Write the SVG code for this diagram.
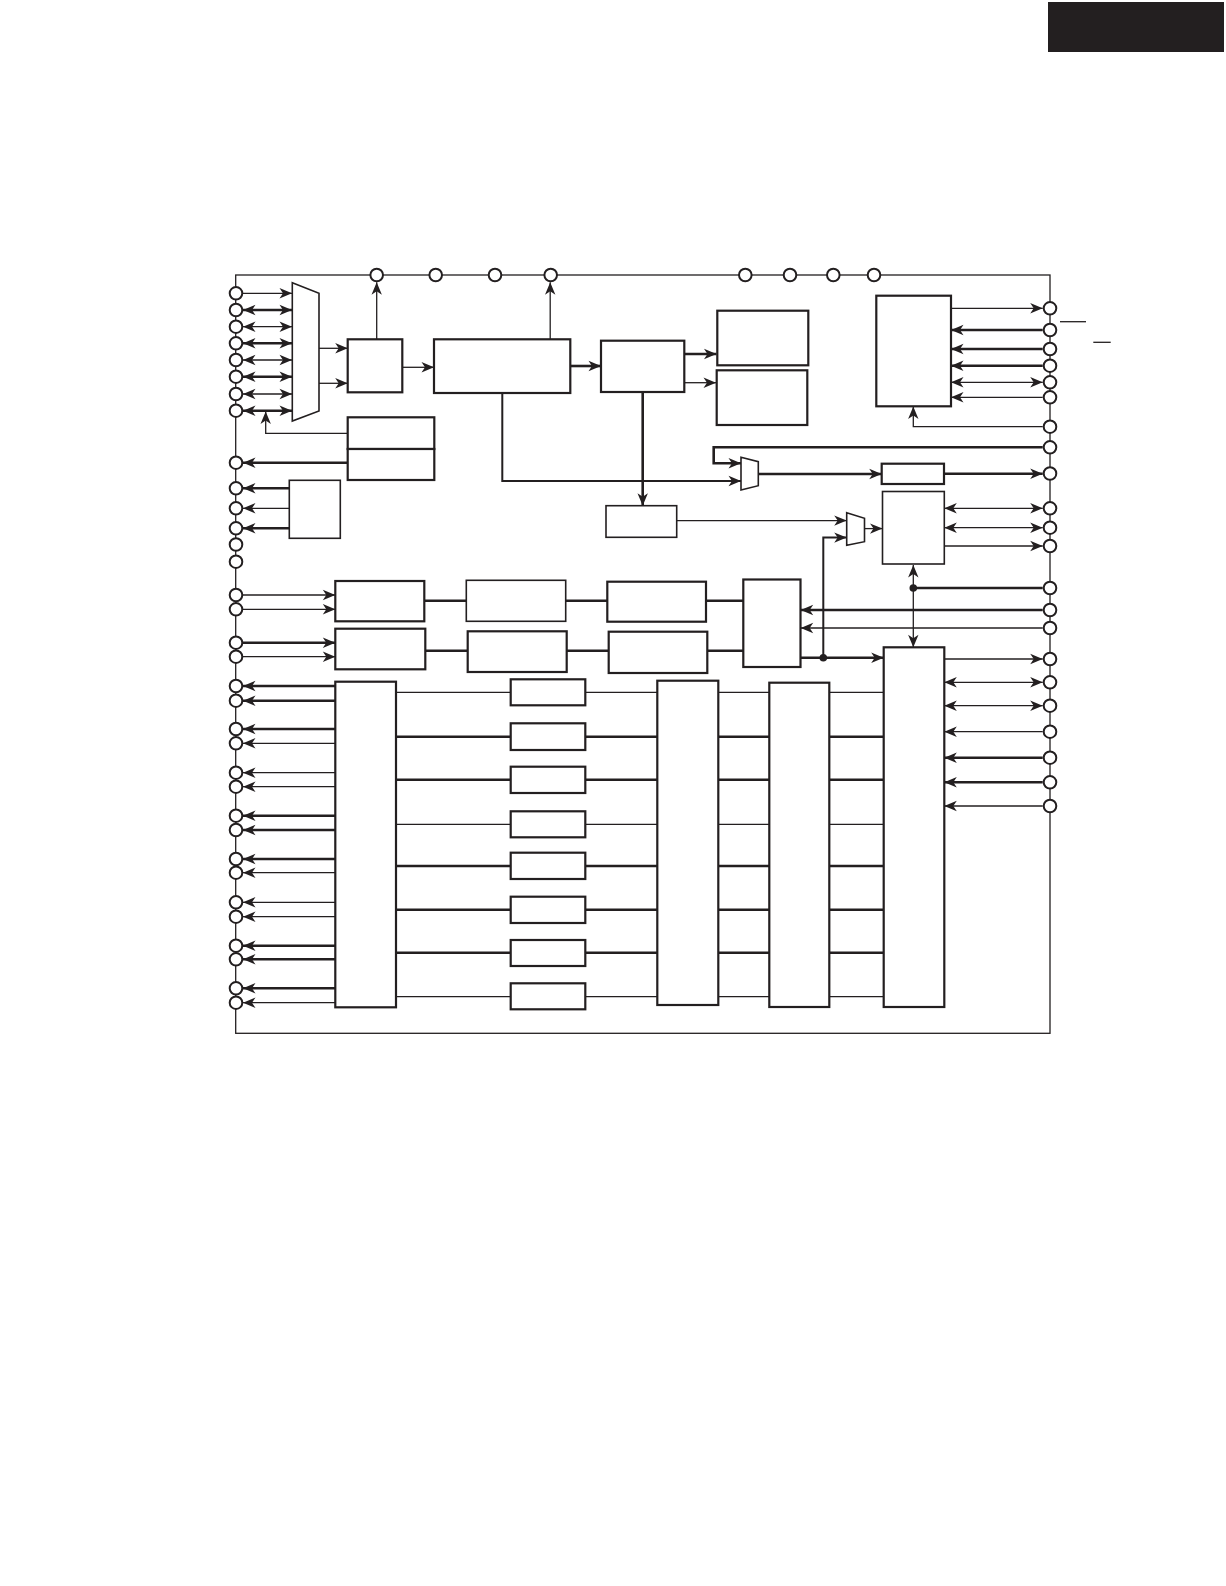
<svg xmlns="http://www.w3.org/2000/svg" width="1226" height="1586" viewBox="0 0 1226 1586">
<style>
.t{stroke:#231f20;stroke-width:1.3;fill:none}
.k{stroke:#231f20;stroke-width:2.6;fill:none}
.m{stroke:#231f20;stroke-width:2;fill:none}
.b{stroke:#231f20;stroke-width:2.2;fill:#fff}
.bt{stroke:#231f20;stroke-width:1.6;fill:#fff}
.pin{stroke:#231f20;stroke-width:2;fill:#fff}
</style>
<defs>
<marker id="ah" markerUnits="userSpaceOnUse" viewBox="-13 -6 14 12" refX="0" refY="0" markerWidth="14" markerHeight="12" orient="auto-start-reverse">
<path d="M0,0 L-12.5,-5.2 L-9,0 L-12.5,5.2 Z" fill="#231f20"/>
</marker>
</defs>
<rect width="1226" height="1586" fill="#fff"/>
<rect id="tab" x="1048" y="2" width="176" height="50" fill="#231f20"/>
<rect id="chip" x="235.7" y="275" width="814.3" height="758.3" class="t"/>

<g id="connectors">
<!-- left pins to mux -->
<line x1="243" y1="293.3" x2="292" y2="293.3" class="t" marker-end="url(#ah)"/>
<line x1="243" y1="310" x2="292" y2="310" class="k" marker-start="url(#ah)" marker-end="url(#ah)"/>
<line x1="243" y1="326.7" x2="292" y2="326.7" class="t" marker-start="url(#ah)" marker-end="url(#ah)"/>
<line x1="243" y1="343.3" x2="292" y2="343.3" class="k" marker-start="url(#ah)" marker-end="url(#ah)"/>
<line x1="243" y1="360" x2="292" y2="360" class="t" marker-start="url(#ah)" marker-end="url(#ah)"/>
<line x1="243" y1="376.7" x2="292" y2="376.7" class="k" marker-start="url(#ah)" marker-end="url(#ah)"/>
<line x1="243" y1="394" x2="292" y2="394" class="t" marker-start="url(#ah)" marker-end="url(#ah)"/>
<line x1="243" y1="410.7" x2="292" y2="410.7" class="k" marker-start="url(#ah)" marker-end="url(#ah)"/>
<!-- mux to A -->
<line x1="319" y1="348.3" x2="347.7" y2="348.3" class="t" marker-end="url(#ah)"/>
<line x1="319" y1="383.3" x2="347.7" y2="383.3" class="t" marker-end="url(#ah)"/>
<!-- A up, A to B -->
<line x1="376.7" y1="339.3" x2="376.7" y2="282.3" class="t" marker-end="url(#ah)"/>
<line x1="402.3" y1="367.3" x2="434" y2="367.3" class="t" marker-end="url(#ah)"/>
<!-- B up, B to C, B down -->
<line x1="550.2" y1="339.3" x2="550.2" y2="282.3" class="t" marker-end="url(#ah)"/>
<line x1="570.3" y1="366" x2="601" y2="366" class="k" marker-end="url(#ah)"/>
<polyline points="502.3,393 502.3,481 741,481" class="m" marker-end="url(#ah)"/>
<!-- D connections -->
<polyline points="347.7,433.3 265.7,433.3 265.7,411.5" class="t" marker-end="url(#ah)"/>
<line x1="347.7" y1="462.7" x2="243" y2="462.7" class="k" marker-end="url(#ah)"/>
<!-- E -->
<line x1="289.3" y1="488.3" x2="243" y2="488.3" class="k" marker-end="url(#ah)"/>
<line x1="289.3" y1="508.3" x2="243" y2="508.3" class="t" marker-end="url(#ah)"/>
<line x1="289.3" y1="528.3" x2="243" y2="528.3" class="k" marker-end="url(#ah)"/>
<!-- C to G -->
<line x1="684.3" y1="354" x2="716.5" y2="354" class="k" marker-end="url(#ah)"/>
<line x1="684.3" y1="382.7" x2="716" y2="382.7" class="t" marker-end="url(#ah)"/>
<line x1="642.7" y1="392" x2="642.7" y2="505.7" class="k" marker-end="url(#ah)"/>
<!-- F to mux3 -->
<line x1="676.7" y1="520.6" x2="846.7" y2="520.6" class="t" marker-end="url(#ah)"/>
<!-- loop into mux2 -->
<polyline points="1042.7,447.3 713.7,447.3 713.7,463.3 741,463.3" class="k" marker-end="url(#ah)"/>
<line x1="758.3" y1="474" x2="881.7" y2="474" class="k" marker-end="url(#ah)"/>
<line x1="944" y1="473.7" x2="1042.7" y2="473.7" class="k" marker-end="url(#ah)"/>
<!-- J -->
<line x1="951" y1="308.3" x2="1042.7" y2="308.3" class="t" marker-end="url(#ah)"/>
<line x1="1042.7" y1="330" x2="951" y2="330" class="k" marker-end="url(#ah)"/>
<line x1="1042.7" y1="349" x2="951" y2="349" class="k" marker-end="url(#ah)"/>
<line x1="1042.7" y1="365.7" x2="951" y2="365.7" class="k" marker-end="url(#ah)"/>
<line x1="951" y1="382.3" x2="1042.7" y2="382.3" class="t" marker-start="url(#ah)" marker-end="url(#ah)"/>
<line x1="1042.7" y1="397.3" x2="951" y2="397.3" class="t" marker-end="url(#ah)"/>
<polyline points="1042.7,426.7 913.3,426.7 913.3,406.5" class="t" marker-end="url(#ah)"/>
<!-- K -->
<line x1="944.3" y1="508.3" x2="1042.7" y2="508.3" class="t" marker-start="url(#ah)" marker-end="url(#ah)"/>
<line x1="944.3" y1="527.7" x2="1042.7" y2="527.7" class="t" marker-start="url(#ah)" marker-end="url(#ah)"/>
<line x1="944.3" y1="546" x2="1042.7" y2="546" class="t" marker-end="url(#ah)"/>
<!-- mux3 -->
<polyline points="823.3,657.7 823.3,537.6 846.7,537.6" class="m" marker-end="url(#ah)"/>
<line x1="864.5" y1="528.6" x2="882.5" y2="528.6" class="t" marker-end="url(#ah)"/>
<!-- K-S double arrow -->
<line x1="913.3" y1="565" x2="913.3" y2="647.3" class="t" marker-start="url(#ah)" marker-end="url(#ah)"/>
<line x1="913.3" y1="588" x2="1042.7" y2="588" class="k"/>
<circle cx="913.3" cy="588" r="3.8" fill="#231f20"/>
<!-- R -->
<line x1="1042.7" y1="610" x2="800.7" y2="610" class="k" marker-end="url(#ah)"/>
<line x1="1042.7" y1="628" x2="800.7" y2="628" class="t" marker-end="url(#ah)"/>
<line x1="800.7" y1="657.7" x2="883.7" y2="657.7" class="k" marker-end="url(#ah)"/>
<circle cx="823.3" cy="657.7" r="3.8" fill="#231f20"/>
<!-- L inputs -->
<line x1="243" y1="595" x2="335.3" y2="595" class="t" marker-end="url(#ah)"/>
<line x1="243" y1="609.3" x2="335.3" y2="609.3" class="t" marker-end="url(#ah)"/>
<line x1="243" y1="642.7" x2="335.3" y2="642.7" class="k" marker-end="url(#ah)"/>
<line x1="243" y1="656.7" x2="335.3" y2="656.7" class="t" marker-end="url(#ah)"/>
<!-- L-M-N-R chains -->
<line x1="424.3" y1="600.7" x2="466.3" y2="600.7" class="k"/>
<line x1="565.7" y1="600.7" x2="607.3" y2="600.7" class="k"/>
<line x1="706" y1="600.7" x2="743.3" y2="600.7" class="k"/>
<line x1="425.3" y1="650.7" x2="467.7" y2="650.7" class="k"/>
<line x1="566.7" y1="650.7" x2="608.7" y2="650.7" class="k"/>
<line x1="707.3" y1="650.7" x2="743.3" y2="650.7" class="k"/>
<!-- S outputs -->
<line x1="944.3" y1="659" x2="1042.7" y2="659" class="t" marker-end="url(#ah)"/>
<line x1="944.3" y1="682.3" x2="1042.7" y2="682.3" class="t" marker-start="url(#ah)" marker-end="url(#ah)"/>
<line x1="944.3" y1="705.7" x2="1042.7" y2="705.7" class="t" marker-start="url(#ah)" marker-end="url(#ah)"/>
<line x1="1042.7" y1="731.7" x2="944.3" y2="731.7" class="t" marker-end="url(#ah)"/>
<line x1="1042.7" y1="757.7" x2="944.3" y2="757.7" class="k" marker-end="url(#ah)"/>
<line x1="1042.7" y1="782.3" x2="944.3" y2="782.3" class="k" marker-end="url(#ah)"/>
<line x1="1042.7" y1="806" x2="944.3" y2="806" class="t" marker-end="url(#ah)"/>
<!-- P outputs -->
<line x1="335.3" y1="686" x2="243" y2="686" class="k" marker-end="url(#ah)"/>
<line x1="335.3" y1="700.7" x2="243" y2="700.7" class="k" marker-end="url(#ah)"/>
<line x1="335.3" y1="729" x2="243" y2="729" class="k" marker-end="url(#ah)"/>
<line x1="335.3" y1="743.3" x2="243" y2="743.3" class="t" marker-end="url(#ah)"/>
<line x1="335.3" y1="772.7" x2="243" y2="772.7" class="t" marker-end="url(#ah)"/>
<line x1="335.3" y1="786.7" x2="243" y2="786.7" class="t" marker-end="url(#ah)"/>
<line x1="335.3" y1="815.7" x2="243" y2="815.7" class="k" marker-end="url(#ah)"/>
<line x1="335.3" y1="830" x2="243" y2="830" class="k" marker-end="url(#ah)"/>
<line x1="335.3" y1="859" x2="243" y2="859" class="k" marker-end="url(#ah)"/>
<line x1="335.3" y1="872.7" x2="243" y2="872.7" class="t" marker-end="url(#ah)"/>
<line x1="335.3" y1="902.3" x2="243" y2="902.3" class="t" marker-end="url(#ah)"/>
<line x1="335.3" y1="916.7" x2="243" y2="916.7" class="t" marker-end="url(#ah)"/>
<line x1="335.3" y1="945.7" x2="243" y2="945.7" class="k" marker-end="url(#ah)"/>
<line x1="335.3" y1="959.3" x2="243" y2="959.3" class="k" marker-end="url(#ah)"/>
<line x1="335.3" y1="988.3" x2="243" y2="988.3" class="k" marker-end="url(#ah)"/>
<line x1="335.3" y1="1002.7" x2="243" y2="1002.7" class="t" marker-end="url(#ah)"/>
<!-- channel rows -->
<path class="t" d="M396,692.3H510.7M585.3,692.3H657.3M718.3,692.3H769.3M829.3,692.3H883.7"/>
<path class="k" d="M396,736.7H510.7M585.3,736.7H657.3M718.3,736.7H769.3M829.3,736.7H883.7"/>
<path class="k" d="M396,779.7H510.7M585.3,779.7H657.3M718.3,779.7H769.3M829.3,779.7H883.7"/>
<path class="t" d="M396,824.3H510.7M585.3,824.3H657.3M718.3,824.3H769.3M829.3,824.3H883.7"/>
<path class="k" d="M396,866H510.7M585.3,866H657.3M718.3,866H769.3M829.3,866H883.7"/>
<path class="k" d="M396,909.7H510.7M585.3,909.7H657.3M718.3,909.7H769.3M829.3,909.7H883.7"/>
<path class="k" d="M396,952.7H510.7M585.3,952.7H657.3M718.3,952.7H769.3M829.3,952.7H883.7"/>
<path class="t" d="M396,996.7H510.7M585.3,996.7H657.3M718.3,996.7H769.3M829.3,996.7H883.7"/>
<!-- overlines -->
<line x1="1060" y1="321.7" x2="1086" y2="321.7" class="t"/>
<line x1="1093.3" y1="342.3" x2="1110.7" y2="342.3" class="t"/>
</g>

<g id="mux1"><polygon points="292.3,282.7 319,293.3 319,411 292.3,421" class="bt"/></g>
<g id="boxA"><rect x="347.7" y="339.3" width="54.6" height="53" class="b"/></g>
<g id="boxB"><rect x="434" y="339.3" width="136.3" height="53.7" class="b"/></g>
<g id="boxC"><rect x="601" y="340.7" width="83.3" height="51.3" class="b"/></g>
<g id="boxG1"><rect x="717.3" y="310.7" width="91" height="54.6" class="b" stroke-width="2.6"/></g>
<g id="boxG2"><rect x="716.7" y="370.3" width="90.6" height="54.7" class="b" stroke-width="2.6"/></g>
<g id="boxD1"><rect x="347.7" y="417.3" width="86.6" height="31.7" class="b"/></g>
<g id="boxD2"><rect x="347.7" y="449" width="86.6" height="31" class="b"/></g>
<g id="boxE"><rect x="289.3" y="480.3" width="51" height="58" class="bt"/></g>
<g id="boxF"><rect x="606" y="505.7" width="70.7" height="31.6" class="bt"/></g>
<g id="mux2"><polygon points="741,457.3 758.3,461.7 758.3,485.7 741,490" class="bt"/></g>
<g id="boxH"><rect x="881.7" y="463.7" width="62.3" height="20.3" class="b" stroke-width="2.6"/></g>
<g id="boxJ"><rect x="876.3" y="295.7" width="74.7" height="110.6" class="b" stroke-width="2.4"/></g>
<g id="boxK"><rect x="882.5" y="491.5" width="61.8" height="72.5" class="bt"/></g>
<g id="mux3"><polygon points="846.7,512.7 864.5,518.3 864.5,541.7 846.7,545.3" class="bt" stroke-width="2"/></g>
<g id="boxL1"><rect x="335.3" y="581" width="89" height="40.3" class="b"/></g>
<g id="boxL2"><rect x="335.3" y="628.7" width="90" height="40.6" class="b"/></g>
<g id="boxM1"><rect x="466.3" y="580.3" width="99.4" height="41" class="bt"/></g>
<g id="boxM2"><rect x="467.7" y="631.3" width="99" height="40.7" class="b"/></g>
<g id="boxN1"><rect x="607.3" y="581.7" width="98.7" height="40" class="b"/></g>
<g id="boxN2"><rect x="608.7" y="631.7" width="98.6" height="41.3" class="b"/></g>
<g id="boxR"><rect x="743.3" y="579.5" width="57.2" height="87.5" class="b"/></g>
<g id="boxS"><rect x="883.7" y="647.3" width="60.6" height="359.7" class="b"/></g>
<g id="boxP"><rect x="335.3" y="681.7" width="60.7" height="325.6" class="b"/></g>
<g id="boxT"><rect x="657.3" y="680.7" width="61" height="324.3" class="b"/></g>
<g id="boxU"><rect x="769.3" y="682.7" width="60" height="324.3" class="b"/></g>
<g id="boxQ1"><rect x="510.7" y="679.3" width="74.6" height="26" class="b"/></g>
<g id="boxQ2"><rect x="510.7" y="723.3" width="74.6" height="26.7" class="b"/></g>
<g id="boxQ3"><rect x="510.7" y="766.7" width="74.6" height="26.3" class="b"/></g>
<g id="boxQ4"><rect x="510.7" y="811.3" width="74.6" height="26" class="b"/></g>
<g id="boxQ5"><rect x="510.7" y="852.7" width="74.6" height="26.3" class="b"/></g>
<g id="boxQ6"><rect x="510.7" y="896.7" width="74.6" height="26.3" class="b"/></g>
<g id="boxQ7"><rect x="510.7" y="940" width="74.6" height="26" class="b"/></g>
<g id="boxQ8"><rect x="510.7" y="983.3" width="74.6" height="26" class="b"/></g>

<g id="pins">
<g id="pinsTop">
<circle cx="376.7" cy="275" r="6.3" class="pin"/>
<circle cx="435.7" cy="275" r="6.3" class="pin"/>
<circle cx="495" cy="275" r="6.3" class="pin"/>
<circle cx="550.7" cy="275" r="6.3" class="pin"/>
<circle cx="745.3" cy="275" r="6.3" class="pin"/>
<circle cx="790" cy="275" r="6.3" class="pin"/>
<circle cx="833.3" cy="275" r="6.3" class="pin"/>
<circle cx="874" cy="275" r="6.3" class="pin"/>
</g>
<g id="pinsLeft">
<circle cx="236" cy="293.3" r="6.3" class="pin"/>
<circle cx="236" cy="310" r="6.3" class="pin"/>
<circle cx="236" cy="326.7" r="6.3" class="pin"/>
<circle cx="236" cy="343.3" r="6.3" class="pin"/>
<circle cx="236" cy="360" r="6.3" class="pin"/>
<circle cx="236" cy="376.7" r="6.3" class="pin"/>
<circle cx="236" cy="394" r="6.3" class="pin"/>
<circle cx="236" cy="410.7" r="6.3" class="pin"/>
<circle cx="236" cy="462.7" r="6.3" class="pin"/>
<circle cx="236" cy="488.3" r="6.3" class="pin"/>
<circle cx="236" cy="508.3" r="6.3" class="pin"/>
<circle cx="236" cy="528.3" r="6.3" class="pin"/>
<circle cx="236" cy="544.5" r="6.3" class="pin"/>
<circle cx="236" cy="561.7" r="6.3" class="pin"/>
<circle cx="236" cy="595" r="6.3" class="pin"/>
<circle cx="236" cy="609.3" r="6.3" class="pin"/>
<circle cx="236" cy="642.7" r="6.3" class="pin"/>
<circle cx="236" cy="656.7" r="6.3" class="pin"/>
<circle cx="236" cy="686" r="6.3" class="pin"/>
<circle cx="236" cy="700.7" r="6.3" class="pin"/>
<circle cx="236" cy="729" r="6.3" class="pin"/>
<circle cx="236" cy="743.3" r="6.3" class="pin"/>
<circle cx="236" cy="772.7" r="6.3" class="pin"/>
<circle cx="236" cy="786.7" r="6.3" class="pin"/>
<circle cx="236" cy="815.7" r="6.3" class="pin"/>
<circle cx="236" cy="830" r="6.3" class="pin"/>
<circle cx="236" cy="859" r="6.3" class="pin"/>
<circle cx="236" cy="872.7" r="6.3" class="pin"/>
<circle cx="236" cy="902.3" r="6.3" class="pin"/>
<circle cx="236" cy="916.7" r="6.3" class="pin"/>
<circle cx="236" cy="945.7" r="6.3" class="pin"/>
<circle cx="236" cy="959.3" r="6.3" class="pin"/>
<circle cx="236" cy="988.3" r="6.3" class="pin"/>
<circle cx="236" cy="1002.7" r="6.3" class="pin"/>
</g>
<g id="pinsRight">
<circle cx="1050" cy="308.3" r="6.3" class="pin"/>
<circle cx="1050" cy="330" r="6.3" class="pin"/>
<circle cx="1050" cy="349" r="6.3" class="pin"/>
<circle cx="1050" cy="365.7" r="6.3" class="pin"/>
<circle cx="1050" cy="382.3" r="6.3" class="pin"/>
<circle cx="1050" cy="397.3" r="6.3" class="pin"/>
<circle cx="1050" cy="426.7" r="6.3" class="pin"/>
<circle cx="1050" cy="447.3" r="6.3" class="pin"/>
<circle cx="1050" cy="473.5" r="6.3" class="pin"/>
<circle cx="1050" cy="508.3" r="6.3" class="pin"/>
<circle cx="1050" cy="527.7" r="6.3" class="pin"/>
<circle cx="1050" cy="546" r="6.3" class="pin"/>
<circle cx="1050" cy="588" r="6.3" class="pin"/>
<circle cx="1050" cy="610" r="6.3" class="pin"/>
<circle cx="1050" cy="628" r="6.3" class="pin"/>
<circle cx="1050" cy="659" r="6.3" class="pin"/>
<circle cx="1050" cy="682.3" r="6.3" class="pin"/>
<circle cx="1050" cy="705.7" r="6.3" class="pin"/>
<circle cx="1050" cy="731.7" r="6.3" class="pin"/>
<circle cx="1050" cy="757.7" r="6.3" class="pin"/>
<circle cx="1050" cy="782.3" r="6.3" class="pin"/>
<circle cx="1050" cy="806" r="6.3" class="pin"/>
</g>
</g>
</svg>
